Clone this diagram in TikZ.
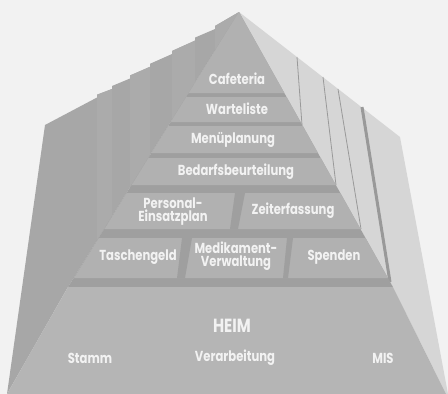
\documentclass[tikz,border=0pt]{standalone}
\usepackage{fontspec}
\setmainfont{Poppins}[FakeStretch=0.8]

\definecolor{paper}{gray}{0.95}
\definecolor{leftface}{gray}{0.655}
\definecolor{leftslab}{gray}{0.67}
\definecolor{rightface}{gray}{0.84}
\definecolor{slot}{gray}{0.625}
\definecolor{band}{gray}{0.695}
\definecolor{basefill}{gray}{0.71}
\definecolor{seam}{gray}{0.6}
\definecolor{labelgray}{gray}{0.95}

\tikzset{
    lbl/.style={text=labelgray, font=\bfseries\fontsize{14.5}{13}\selectfont, align=center, inner sep=0pt},
    biglbl/.style={lbl, font=\bfseries\fontsize{19}{20}\selectfont},
    seamline/.style={draw=seam, line width=0.8pt},
}

\begin{document}
\begin{tikzpicture}[x=1pt,y=-1pt]
    \fill[paper] (0,0) rectangle (448,394);
    \useasboundingbox (0,0) rectangle (448,394);
    % corners of the block
    \coordinate (apex) at (239,12);
    \coordinate (fl) at (68,287);
    \coordinate (fr) at (393,287);
    \coordinate (bl) at (7,394);
    \coordinate (br) at (446,394);
    % left face, stepped top
    \begin{scope}
        \path[clip] (bl) -- (45,125) -- (97,97.5) -- (97,94.7) -- (112,89) -- (112,86)
            -- (130,78.5) -- (130,75.5) -- (150,66.8) -- (150,63.8) -- (172,54) -- (172,51)
            -- (195,40.6) -- (195,37.6) -- (215,29) -- (215,26) -- (apex) -- (fl) -- cycle;
        \fill[leftface] (0,0) rectangle (250,394);
        \foreach \xa/\xb in {97/112, 130/150, 172/195, 215/239}
            \fill[leftslab] (\xa,0) rectangle (\xb,394);
    \end{scope}
    % right face and its slabs
    \fill[rightface] (apex) -- (400,137) -- (448,394) -- (br) -- (fr) -- cycle;
    \draw[seamline] (297,57) -- (302,125);
    \draw[seamline] (323,77) -- (336,185);
    \draw[seamline] (338,89) -- (361,229);
    \draw[seamline, line width=3pt] (362,107) -- (390,282);
    % front face
    \fill[slot] (apex) -- (fr) -- (fl) -- cycle;
    \foreach \ya/\yb in {12/93, 97/122, 126/153, 158/185, 193/229, 238/278}
        \fill[band] ({239-0.62*(\ya-12)},\ya) -- ({239+0.56*(\ya-12)},\ya)
            -- ({239+0.56*(\yb-12)},\yb) -- ({239-0.62*(\yb-12)},\yb) -- cycle;
    \fill[slot] (235,193) -- (245,193) -- (238,229) -- (230,229) -- cycle;
    \fill[slot] (182,238) -- (192,238) -- (185,278) -- (177,278) -- cycle;
    \fill[slot] (287,238) -- (293,238) -- (288,278) -- (283,278) -- cycle;
    \fill[basefill] (fl) -- (fr) -- (br) -- (bl) -- cycle;

    \node[lbl] (cafeteria) at (237,79) {Cafeteria};
    \node[lbl] (warteliste) at (237,109) {Warteliste};
    \node[lbl] (menue) at (233,140) {Menüplanung};
    \node[lbl] (bedarf) at (236,172) {Bedarfsbeurteilung};
    \node[lbl] (personal) at (173,212) {Personal-\\Einsatzplan};
    \node[lbl] (zeit) at (293,211) {Zeiterfassung};
    \node[lbl] (tasche) at (138,257) {Taschengeld};
    \node[lbl] (medi) at (236,256) {Medikament-\\Verwaltung};
    \node[lbl] (spenden) at (334,257) {Spenden};
    \node[biglbl] (heim) at (232,326) {HEIM};
    \node[lbl] (stamm) at (90,358) {Stamm};
    \node[lbl] (verarb) at (235,358) {Verarbeitung};
    \node[lbl] (mis) at (383,358) {MIS};
\end{tikzpicture}
\end{document}
